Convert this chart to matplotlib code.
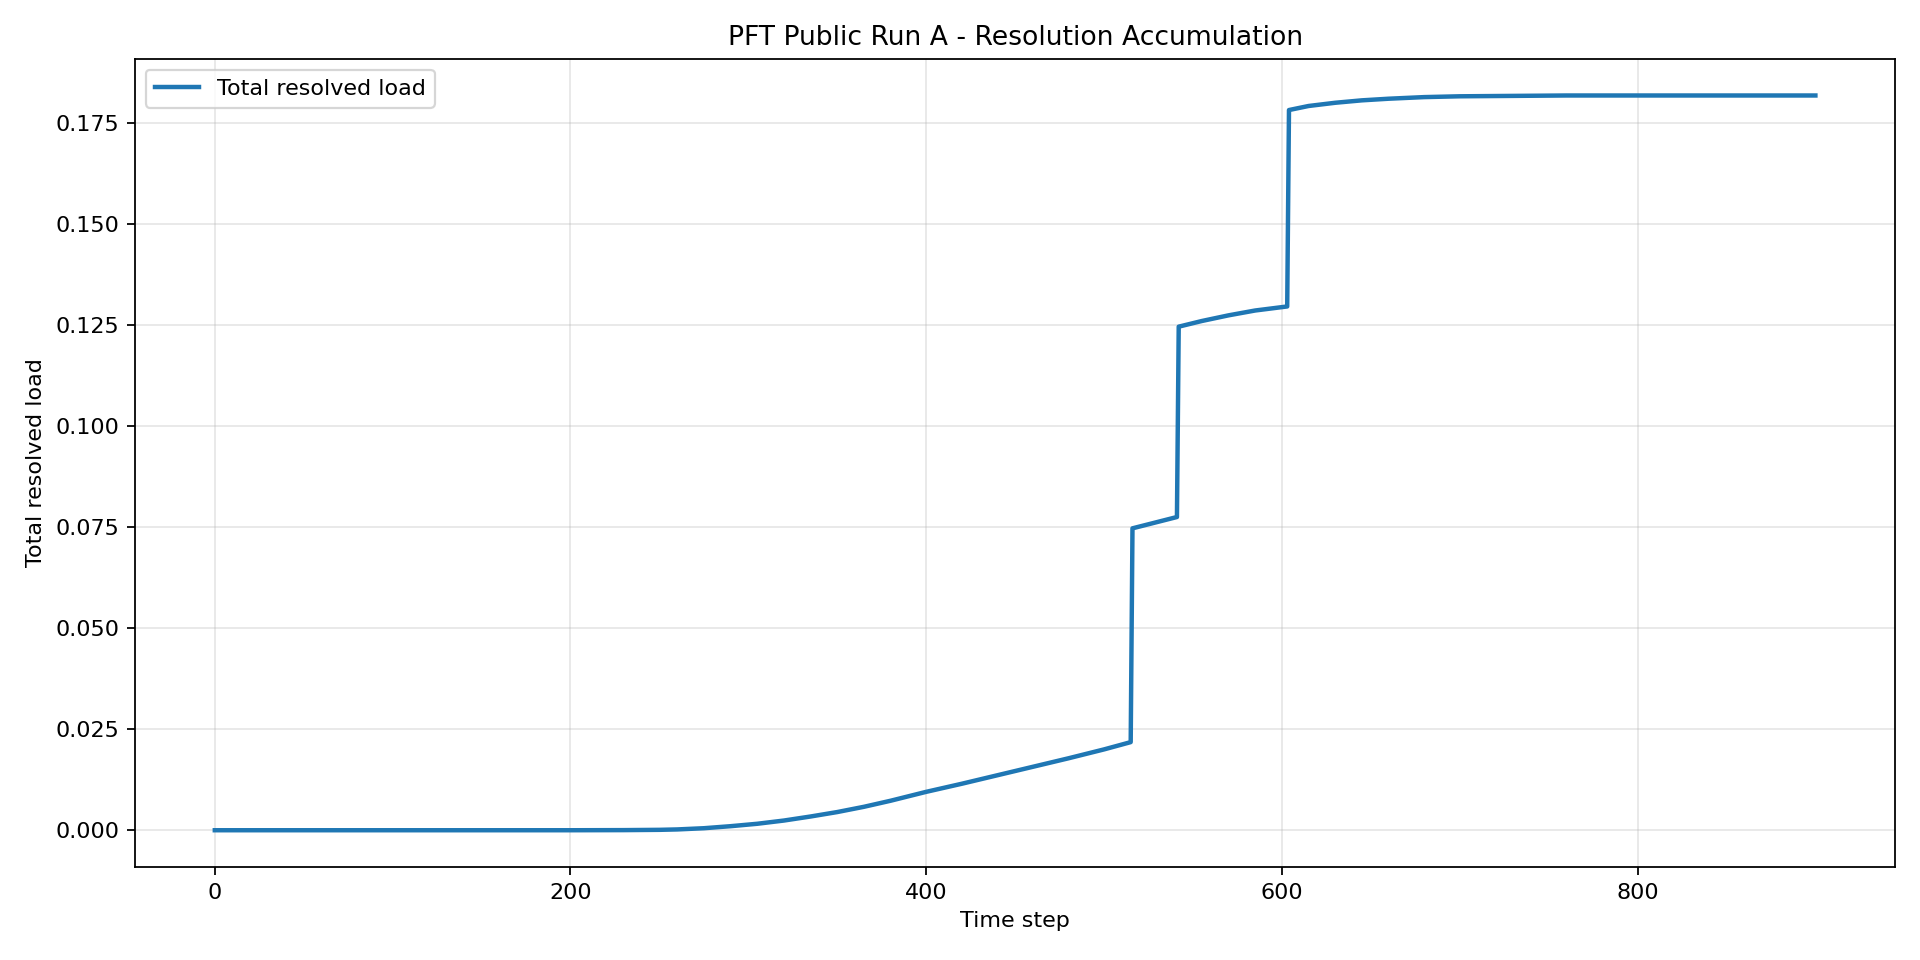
import matplotlib
matplotlib.use("Agg")
import matplotlib.pyplot as plt
import numpy as np

# values
steps = [0, 200, 230, 250, 260, 275, 290, 305, 320, 335, 350, 365, 380, 400,
         420, 440, 460, 480, 500, 515, 516, 541, 542, 555, 570, 585, 603, 604,
         615, 630, 645, 660, 680, 700, 730, 760, 900]
resolved = [0.0, 0.0, 0.00003, 0.0001, 0.0002, 0.0005, 0.0010, 0.0016, 0.0024,
            0.0034, 0.0045, 0.0058, 0.0073, 0.0095, 0.0115, 0.0136, 0.0157,
            0.0178, 0.0200, 0.0218, 0.0747, 0.0775, 0.1246, 0.1260, 0.1274,
            0.1286, 0.1296, 0.1782, 0.1792, 0.1800, 0.1806, 0.1810, 0.1814,
            0.1816, 0.1817, 0.1818, 0.1818]

fig, ax = plt.subplots(figsize=(12, 6), dpi=160)
ax.plot(np.array(steps), np.array(resolved), linewidth=2, label="Total resolved load")
ax.set_title("PFT Public Run A - Resolution Accumulation")
ax.set_xlabel("Time step")
ax.set_ylabel("Total resolved load")
ax.grid(True, alpha=0.3)
ax.legend(loc="upper left")
fig.subplots_adjust(left=0.0702, right=0.9872, top=0.9388, bottom=0.0969)
fig.savefig("out.png")
